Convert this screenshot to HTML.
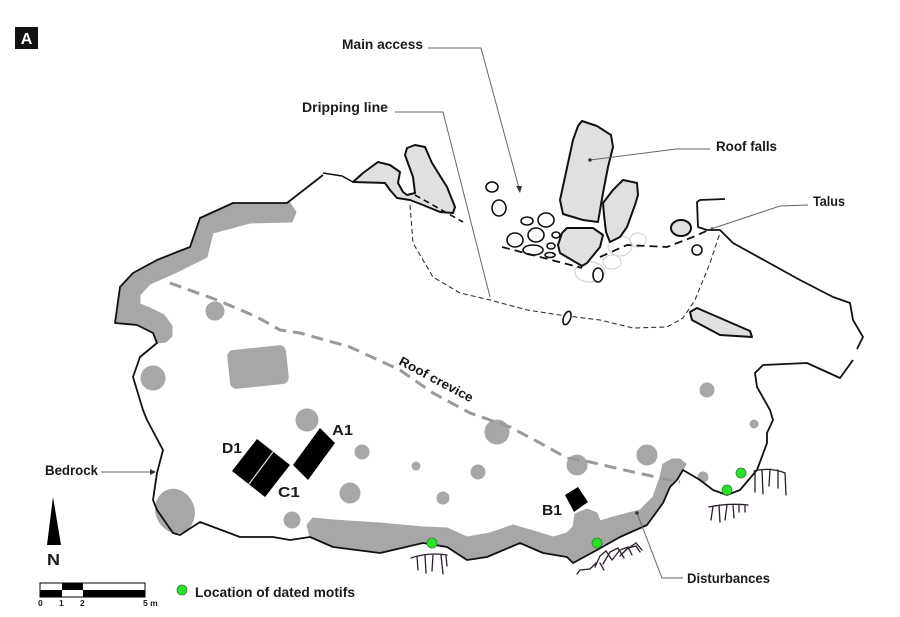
<!DOCTYPE html>
<html><head><meta charset="utf-8"><style>
html,body{margin:0;padding:0;background:#fff;}
svg{display:block;}
text{font-family:"Liberation Sans",sans-serif;font-weight:bold;fill:#1a1a1a;}
</style></head><body>
<svg width="900" height="617" viewBox="0 0 900 617" xmlns="http://www.w3.org/2000/svg">
<rect width="900" height="617" fill="#fff"/>

<!-- A label -->
<rect x="15" y="27" width="23" height="22" fill="#111"/>
<text x="26.5" y="44" font-size="16" text-anchor="middle" style="fill:#fff">A</text>

<!-- gray disturbance bands -->
<g fill="#a7a7a7" stroke="#a7a7a7" stroke-width="1" stroke-linejoin="round">
<polygon points="290,203 233,203 200,218 190,247 177,252 157,260 133,273 120,287 115,323 137,325 153,333 157,343 166,342 172,336 172,326 164,315 150,308 140,304 140,295 150,284 177,272 207,257 213,233 250,223 292,222 296,212"/>
<polygon points="310,537 333,547 380,553 423,543 447,547 467,560 487,557 520,543 543,553 567,557 573,563 597,550 620,537 647,525 663,503 670,487 677,480 683,470 686,464 680,459 672,459 663,464 660,477 653,497 640,510 613,517 600,521 597,513 587,509 575,514 573,527 567,533 553,537 537,532 513,525 490,533 467,537 447,528 423,527 380,523 333,520 313,518 307,525"/>
<ellipse cx="175" cy="511" rx="19" ry="22" transform="rotate(-20 175 511)"/>
<rect x="229" y="348" width="58" height="38" rx="6" transform="rotate(-6 258 367)"/>
<circle cx="153" cy="378" r="12"/>
<circle cx="215" cy="311" r="9"/>
<circle cx="307" cy="420" r="11"/>
<circle cx="362" cy="452" r="7"/>
<circle cx="350" cy="493" r="10"/>
<circle cx="292" cy="520" r="8"/>
<circle cx="416" cy="466" r="4"/>
<circle cx="443" cy="498" r="6"/>
<circle cx="478" cy="472" r="7"/>
<circle cx="497" cy="432" r="12"/>
<circle cx="577" cy="465" r="10"/>
<circle cx="647" cy="455" r="10"/>
<circle cx="703" cy="477" r="5"/>
<circle cx="754" cy="424" r="4"/>
<circle cx="707" cy="390" r="7"/>
</g>

<!-- roof crevice -->
<path d="M170,283 L217,300 L257,317 L280,330 L300,333 L350,347 L400,370 L433,393 L470,413 L490,420 L510,427 L540,443 L567,458 L590,462 L633,472 L680,482" fill="none" stroke="#999" stroke-width="3" stroke-dasharray="12 7"/>
<text font-size="13" transform="translate(398,364) rotate(28)" textLength="82" lengthAdjust="spacingAndGlyphs">Roof crevice</text>

<!-- dripping line -->
<path d="M410,205 L413,243 L433,277 L460,293 L490,300 L527,310 L560,315 L600,320 L633,328 L667,327 L683,318 L695,300 L710,263 L720,233" fill="none" stroke="#333" stroke-width="1.1" stroke-dasharray="5 3"/>

<!-- faint stones -->
<g fill="none" stroke="#cfcfcf" stroke-width="1">
<ellipse cx="580" cy="247" rx="12" ry="10"/>
<ellipse cx="590" cy="272" rx="15" ry="10"/>
<ellipse cx="620" cy="246" rx="12" ry="10"/>
<ellipse cx="638" cy="240" rx="8" ry="7"/>
<ellipse cx="612" cy="262" rx="9" ry="7"/>
</g>

<!-- left boulder -->
<polygon points="353,182 363,173 378,162 390,165 400,172 398,183 403,192 407,195 415,193 413,177 405,155 407,148 415,145 425,147 432,163 447,187 455,207 453,213 440,212 423,205 410,200 397,198 390,190 385,183" fill="#e0e0e0" stroke="#111" stroke-width="2" stroke-linejoin="round"/>
<path d="M323,173 L342,176 L353,182" fill="none" stroke="#111" stroke-width="1.5"/>

<!-- roof fall boulders -->
<g fill="#e0e0e0" stroke="#111" stroke-width="2" stroke-linejoin="round">
<polygon points="582,121 597,126 611,135 613,147 608,167 603,193 598,222 583,220 563,214 560,200 565,177 573,140 578,126"/>
<polygon points="603,203 613,190 623,180 637,183 638,195 635,205 627,227 620,237 610,242 606,232 604,215"/>
<polygon points="562,233 567,228 593,228 603,235 600,247 587,263 582,266 560,253 558,245"/>
<ellipse cx="681" cy="228" rx="10" ry="8"/>
<polygon points="690,312 697,308 750,331 752,337 720,335 692,320"/>
</g>
<g fill="#fff" stroke="#111" stroke-width="1.6">
<ellipse cx="492" cy="187" rx="6" ry="5"/>
<ellipse cx="499" cy="208" rx="7" ry="8"/>
<ellipse cx="527" cy="221" rx="6" ry="4"/>
<ellipse cx="546" cy="220" rx="8" ry="7"/>
<ellipse cx="536" cy="235" rx="8" ry="7"/>
<ellipse cx="515" cy="240" rx="8" ry="7"/>
<ellipse cx="533" cy="250" rx="10" ry="5"/>
<ellipse cx="556" cy="235" rx="4" ry="3"/>
<ellipse cx="551" cy="246" rx="4" ry="3"/>
<ellipse cx="550" cy="255" rx="5" ry="2.5"/>
<ellipse cx="598" cy="275" rx="5" ry="7"/>
<ellipse cx="697" cy="250" rx="5" ry="5"/>
<ellipse cx="567" cy="318" rx="3.5" ry="7" transform="rotate(20 567 318)"/>
</g>

<!-- dashed black lines -->
<path d="M415,195 L463,222" stroke="#111" stroke-width="1.6" stroke-dasharray="6 4" fill="none"/>
<path d="M502,247 L582,268 M600,257 L627,245 L667,247 L693,237 L713,228" stroke="#111" stroke-width="1.8" stroke-dasharray="8 5" fill="none"/>

<!-- main outline -->
<g fill="none" stroke="#111" stroke-width="1.8" stroke-linejoin="round">
<path d="M323,175 L287,203 L233,203 L200,218 L190,247 L177,252 L157,260 L133,273 L120,287 L115,323 L137,325 L153,333 L157,343 L140,357 L133,377 L143,410 L147,420 L163,450 L157,473 L153,500 L157,510 L173,533 L180,535 L200,522 L240,537 L273,537 L290,540 L310,537 L333,547 L380,553 L423,543 L447,547 L467,560 L487,557 L520,543 L543,553 L567,557 L573,563 L597,550 L620,537 L647,525 L663,503 L670,487 L677,480 L683,470 L700,480 L713,490 L727,495 L740,490 L757,470 L767,443 L767,433 L773,420 L770,410 L757,387 L755,373 L763,365 L807,363 L840,378 L853,360"/>
<path d="M857,349 L863,337 L853,320 L850,303 L833,297 L800,280 L733,243 L720,230 L707,230"/>
<path d="M707,230 L698,227 L697,202 L700,200 L725,199"/>
</g>

<!-- squares -->
<polygon points="232,471 257,439 290,465 265,497" fill="#000"/>
<line x1="273" y1="452" x2="249" y2="484" stroke="#ddd" stroke-width="1.2"/>
<polygon points="293,465 320,428 335,443 308,480" fill="#000"/>
<polygon points="565,495 578,487 588,502 574,512" fill="#000"/>
<text x="222" y="453" font-size="15" textLength="20" lengthAdjust="spacingAndGlyphs">D1</text>
<text x="278" y="497" font-size="15" textLength="22" lengthAdjust="spacingAndGlyphs">C1</text>
<text x="332" y="435" font-size="15" textLength="21" lengthAdjust="spacingAndGlyphs">A1</text>
<text x="542" y="515" font-size="15" textLength="20" lengthAdjust="spacingAndGlyphs">B1</text>

<!-- petroglyphs -->
<g fill="none" stroke="#2b1d2b" stroke-width="1.3" stroke-linecap="round">
<path d="M411,558 Q428,552 447,555 M417,556 L418,570 M425,555 L426,573 M433,555 L432,571 M441,555 L443,574 M446,556 L447,566"/>
<path d="M577,574 L580,570 L590,569 L596,563 M595,567 L600,556 L606,551 L612,560 M603,564 L610,552 L618,548 L624,558 M612,560 L620,550 L628,547 L632,555 M620,556 L628,548 L636,546 L640,552 M630,547 L636,543 L642,550 M600,563 L604,570"/>
<path d="M709,507 Q728,503 748,505 M713,506 L711,520 M719,505 L720,522 M727,505 L725,520 M733,505 L734,518 M739,505 L739,512 M745,506 L745,512"/>
<path d="M754,471 Q770,467 785,473 M755,471 L755,492 M762,470 L763,494 M770,469 L769,486 M778,470 L778,488 M785,473 L786,495"/>
</g>

<!-- green dots -->
<g fill="#2be02b" stroke="#2c8a2c" stroke-width="0.8">
<circle cx="432" cy="543" r="5"/>
<circle cx="597" cy="543" r="5"/>
<circle cx="727" cy="490" r="5"/>
<circle cx="741" cy="473" r="5"/>
<circle cx="182" cy="590" r="5"/>
</g>

<!-- leader lines -->
<g fill="none" stroke="#666" stroke-width="1">
<path d="M428,48 L481,48 L519,188"/>
<path d="M395,112 L443,112 L490,297"/>
<path d="M710,149 L676,149 L590,160"/>
<path d="M808,205 L780,206 L711,229"/>
<path d="M101,472 L152,472"/>
<path d="M683,578 L662,578 L637,513"/>
</g>
<polygon points="516,186 522,186 520,193" fill="#333"/>
<polygon points="150,469 150,475 156,472" fill="#333"/>
<circle cx="590" cy="160" r="1.8" fill="#333"/>
<circle cx="637" cy="513" r="1.8" fill="#333"/>

<!-- labels -->
<text x="342" y="49" font-size="14" textLength="81" lengthAdjust="spacingAndGlyphs">Main access</text>
<text x="302" y="112" font-size="14" textLength="86" lengthAdjust="spacingAndGlyphs">Dripping line</text>
<text x="716" y="151" font-size="14" textLength="61" lengthAdjust="spacingAndGlyphs">Roof falls</text>
<text x="813" y="206" font-size="14" textLength="32" lengthAdjust="spacingAndGlyphs">Talus</text>
<text x="45" y="475" font-size="14" textLength="53" lengthAdjust="spacingAndGlyphs">Bedrock</text>
<text x="687" y="583" font-size="14" textLength="83" lengthAdjust="spacingAndGlyphs">Disturbances</text>
<text x="195" y="597" font-size="14" textLength="160" lengthAdjust="spacingAndGlyphs">Location of dated motifs</text>

<!-- north arrow -->
<polygon points="53,497 47,545 61,545" fill="#000"/>
<text x="47" y="565" font-size="16" textLength="13" lengthAdjust="spacingAndGlyphs">N</text>

<!-- scale bar -->
<rect x="40" y="583" width="105" height="14" fill="#fff" stroke="#000" stroke-width="1"/>
<rect x="62" y="583" width="21" height="7" fill="#000"/>
<rect x="40" y="590" width="22" height="7" fill="#000"/>
<rect x="83" y="590" width="62" height="7" fill="#000"/>
<text x="38" y="606" font-size="8.5">0</text>
<text x="59" y="606" font-size="8.5">1</text>
<text x="80" y="606" font-size="8.5">2</text>
<text x="143" y="606" font-size="8.5">5 m</text>
</svg>
</body></html>
